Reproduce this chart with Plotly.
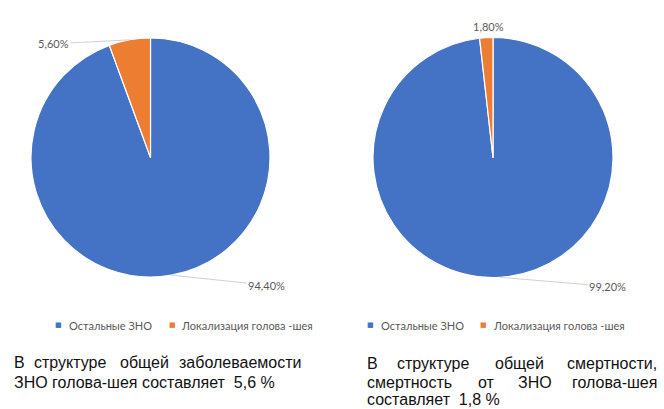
import math
import plotly.graph_objects as go

# Categories and shares (%)
categories = ["Остальные ЗНО", "Локализация голова -шея"]
incidence = [94.4, 5.6]
mortality = [99.2, 1.8]
colors = ["#4472C4", "#ED7D31"]

W, H = 664, 409

# Pie placement in pixels: centre x, centre y, radius
pies = [
    dict(values=incidence, cx=150.5, cy=157.5, r=119.5),
    dict(values=mortality, cx=493.0, cy=157.5, r=120.0),
]

# Offsets (pixels) of each value label from the slice's outer edge midpoint
label_offsets = [
    [(95, 10, True), (-76, 4, True)],
    [(108, 9, True), (2, -11, False)],
]

fig = go.Figure()
annotations = []

for p, offs in zip(pies, label_offsets):
    cx, cy, r = p["cx"], p["cy"], p["r"]
    fig.add_trace(go.Pie(
        labels=categories,
        values=p["values"],
        sort=False,
        direction="clockwise",
        rotation=0,
        marker=dict(colors=colors, line=dict(color="white", width=1.2)),
        textinfo="none",
        showlegend=False,
        domain=dict(x=[(cx - r) / W, (cx + r) / W],
                    y=[1 - (cy + r) / H, 1 - (cy - r) / H]),
    ))
    total = sum(p["values"])
    start = 0.0
    for v, (ax, ay, arrow) in zip(p["values"], offs):
        frac = v / total
        mid = (start + frac / 2) * 2 * math.pi
        start += frac
        px = cx + r * math.sin(mid)
        py = cy - r * math.cos(mid)
        txt = f"{v:.2f}%".replace(".", ",")
        a = dict(x=px / W, y=1 - py / H, xref="paper", yref="paper",
                 text=txt, font=dict(family="Lato", size=11, color="#595959"))
        if arrow:
            a.update(showarrow=True, ax=ax, ay=ay, arrowhead=0,
                     arrowwidth=1, arrowcolor="#D0D0D0", standoff=0)
        else:
            a.update(showarrow=False, xanchor="center", yanchor="middle",
                     xshift=ax, yshift=-ay)
        annotations.append(a)

# Legends under each pie
legend_rows = [
    dict(y=325, items=[(58, 67), (172, 179)]),
    dict(y=325, items=[(370, 379), (483, 491)]),
]
for row in legend_rows:
    for (sx, tx), name, col in zip(row["items"], categories, colors):
        annotations.append(dict(
            x=sx / W, y=1 - row["y"] / H, xref="paper", yref="paper",
            text="■", showarrow=False, xanchor="center", yanchor="middle",
            font=dict(family="DejaVu Sans", size=7, color=col)))
        annotations.append(dict(
            x=tx / W, y=1 - row["y"] / H, xref="paper", yref="paper",
            text=name, showarrow=False, xanchor="left", yanchor="middle",
            font=dict(family="Lato", size=11, color="#595959")))

# Captions (justified lines, word by word): (word, x, anchor)
caption_lines = [
    (362, [("В", 12, "left"), ("структуре", 70, "center"),
           ("общей", 144, "center"), ("заболеваемости", 303, "right")]),
    (382, [("ЗНО голова-шея составляет  5,6 %", 12, "left")]),
    (363, [("В", 365, "left"), ("структуре", 433, "center"),
           ("общей", 519, "center"), ("смертности,", 659, "right")]),
    (382, [("смертность", 365, "left"), ("от", 486.5, "center"),
           ("ЗНО", 534.5, "center"), ("голова-шея", 659, "right")]),
    (399, [("составляет  1,8 %", 365, "left")]),
]
for y, words in caption_lines:
    for word, x, anchor in words:
        annotations.append(dict(
            x=x / W, y=1 - y / H, xref="paper", yref="paper",
            text=word.replace("  ", "&nbsp; "), showarrow=False,
            xanchor=anchor, yanchor="middle",
            font=dict(family="Liberation Sans", size=16, color="#111111")))

fig.update_layout(
    width=W, height=H,
    margin=dict(l=0, r=0, t=0, b=0),
    paper_bgcolor="white",
    plot_bgcolor="white",
    annotations=annotations,
)

fig.write_html("out.html")
